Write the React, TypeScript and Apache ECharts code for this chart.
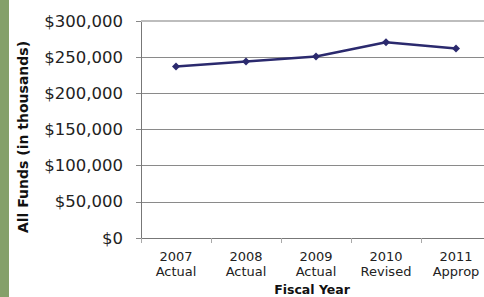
import React, { useEffect, useRef } from "react";
import * as echarts from "echarts";

const categories = ["2007\nActual", "2008\nActual", "2009\nActual", "2010\nRevised", "2011\nApprop"];
const allFunds = [237000, 244000, 251000, 270500, 262000];
const yTicks = [0, 50000, 100000, 150000, 200000, 250000, 300000];

const FONT = "'DejaVu Sans', 'Liberation Sans', Arial, sans-serif";

export default function App() {
  const ref = useRef<HTMLDivElement>(null);
  useEffect(() => {
    document.body.style.margin = "0";
    document.body.style.overflow = "hidden";
    const chart = echarts.init(ref.current!, null, { renderer: "svg" });
    chart.setOption({
      animation: false,
      backgroundColor: "#ffffff",
      grid: { left: 141, top: 21, bottom: 59, right: 0, containLabel: false },
      xAxis: {
        type: "category",
        data: categories,
        boundaryGap: true,
        axisLine: { lineStyle: { color: "#777", width: 1 } },
        axisTick: { show: true, length: 5, lineStyle: { color: "#aaa" } },
        axisLabel: { color: "#222", fontFamily: FONT, fontSize: 13, lineHeight: 15, margin: 11 },
        splitLine: { show: false },
      },
      yAxis: {
        type: "value",
        min: yTicks[0],
        max: yTicks[yTicks.length - 1],
        interval: 50000,
        axisLine: { show: true, lineStyle: { color: "#777", width: 1 } },
        axisTick: { show: true, length: 5, lineStyle: { color: "#888" } },
        axisLabel: {
          color: "#222",
          fontFamily: FONT,
          fontSize: 16.5,
          margin: 18,
          formatter: (v: number) => "$" + v.toLocaleString("en-US"),
        },
        splitLine: { show: true, lineStyle: { color: "#8a8a8a", width: 1 } },
      },
      graphic: [
        { type: "rect", left: 0, top: 0, shape: { width: 9, height: 297 }, style: { fill: "#84a06a" } },
        {
          type: "text",
          x: 23,
          y: 137,
          rotation: Math.PI / 2,
          style: {
            text: "All Funds (in thousands)",
            fontFamily: FONT,
            fontWeight: "bold",
            fontSize: 14,
            fill: "#111",
            textAlign: "center",
            textVerticalAlign: "middle",
          },
        },
        {
          type: "text",
          x: 312,
          y: 289,
          style: {
            text: "Fiscal Year",
            fontFamily: FONT,
            fontWeight: "bold",
            fontSize: 12.5,
            fill: "#111",
            textAlign: "center",
            textVerticalAlign: "middle",
          },
        },
      ],
      series: [
        {
          type: "line",
          data: allFunds,
          symbol: "diamond",
          symbolSize: 8,
          lineStyle: { color: "#2b2a6e", width: 2.5 },
          itemStyle: { color: "#2b2a6e" },
          markLine: {
            silent: true,
            symbol: "none",
            label: { show: false },
            lineStyle: { color: "#bdbdbd", width: 2, type: "solid" },
            data: [{ yAxis: 300000 }],
          },
        },
      ],
    });
    return () => chart.dispose();
  }, []);
  return <div ref={ref} style={{ position: "fixed", left: 0, top: 0, width: 491, height: 297 }} />;
}
